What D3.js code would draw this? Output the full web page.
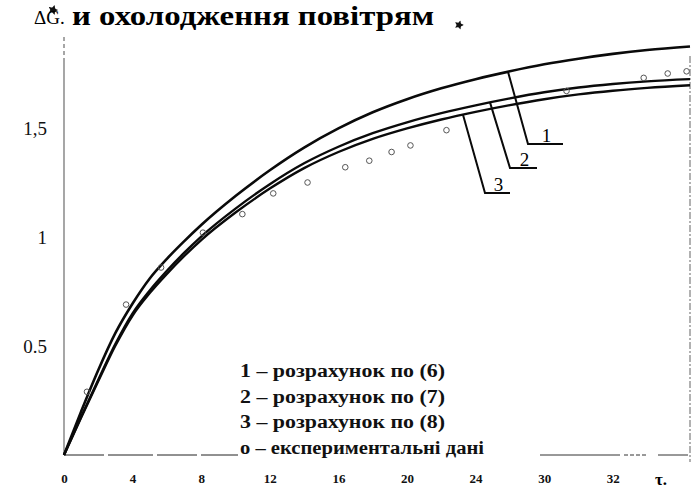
<!DOCTYPE html>
<html><head><meta charset="utf-8">
<script src="https://cdn.jsdelivr.net/npm/d3@7/dist/d3.min.js"></script>
<style>
html,body{margin:0;padding:0;background:#fff;}
svg{display:block;font-family:"Liberation Serif","DejaVu Serif",serif;}
</style></head>
<body>
<svg id="chart" width="696" height="490"></svg>
<script>
// ---- data ----
const xTicks = [0,4,8,12,16,20,24,28,32];
const xTickLabels = ["0","4","8","12","16","20","24","30","32"];
const yTicks = [0.5,1,1.5];
const yTickLabels = ["0.5","1","1,5"];

const tau     = [0,1,2,3,4,5,6,7,8,10,12,14,16,18,20,22,24,26,28,30,32,34,36.5];
const series1 = [0,0.2,0.39,0.56,0.695,0.81,0.9,0.98,1.055,1.188,1.306,1.41,1.498,1.572,1.632,1.682,1.724,1.76,1.792,1.818,1.84,1.858,1.874];
const series2 = [0,0.175,0.345,0.51,0.65,0.755,0.845,0.927,1.002,1.13,1.242,1.338,1.414,1.476,1.526,1.568,1.604,1.636,1.664,1.686,1.702,1.714,1.724];
const series3 = [0,0.172,0.339,0.502,0.64,0.743,0.831,0.912,0.986,1.112,1.222,1.316,1.39,1.45,1.498,1.539,1.574,1.605,1.632,1.654,1.671,1.684,1.696];

const expT = [1.34,3.62,5.66,8.1,10.4,12.2,14.2,16.4,17.8,19.1,20.2,22.3,29.3,33.8,35.2,36.3];
const expG = [0.29,0.69,0.86,1.02,1.105,1.20,1.25,1.32,1.35,1.39,1.42,1.49,1.67,1.73,1.75,1.76];

const curveNames = ["1","2","3"];
const legendLines = ["1 – розрахунок по (6)","2 – розрахунок по (7)","3 – розрахунок по (8)","o – експериментальні дані"];
const title = "и охолодження повітрям";
const yLabel = "ΔG.";
const xLabel = "τ.";

// ---- layout ----
const svg = d3.select("#chart");
const x = d3.scaleLinear().domain([0,36.5]).range([64,690]);
const y = d3.scaleLinear().domain([0,1.5]).range([455,128]);

// title
svg.append("text").attr("x",72).attr("y",24.5)
  .attr("font-size",27).attr("font-weight","bold")
  .attr("textLength",362).attr("lengthAdjust","spacingAndGlyphs")
  .text(title);
// ink blots
function blot(cx,cy,r){
  const pts=[];
  for(let i=0;i<10;i++){const a=i/10*Math.PI*2;const rr=(i%2?r*0.55:r);pts.push([cx+rr*Math.cos(a),cy+rr*Math.sin(a)]);}
  svg.append("path").attr("d",d3.line().curve(d3.curveCardinalClosed)(pts)).attr("fill","#111");
}
blot(53,10,5); blot(459,25,4.5);

svg.append("text").attr("x",34).attr("y",24).attr("font-size",19).text(yLabel);

// y axis
const gy = svg.append("g").attr("transform","translate(64,0)")
  .call(d3.axisLeft(y).tickValues(yTicks).tickFormat((d,i)=>yTickLabels[i]).tickSize(0).tickPadding(17));
gy.select(".domain").remove();
gy.selectAll("text").attr("font-family","Liberation Serif").attr("font-size",19).attr("fill","#111").attr("dy","0.35em");
svg.append("line").attr("x1",64).attr("x2",64).attr("y1",y(0)).attr("y2",62)
  .attr("stroke","#777").attr("stroke-width",1.3);
svg.append("line").attr("x1",64).attr("x2",64).attr("y1",62).attr("y2",34)
  .attr("stroke","#777").attr("stroke-width",1.3).attr("stroke-dasharray","4,3");

// x axis
const gx = svg.append("g").attr("transform","translate(0,478)")
  .call(d3.axisBottom(x).tickValues(xTicks).tickFormat((d,i)=>xTickLabels[i]).tickSize(0).tickPadding(0));
gx.select(".domain").remove();
gx.selectAll("text").attr("font-family","Liberation Serif").attr("font-size",13).attr("font-weight","bold").attr("fill","#111").attr("dy","0.35em");
svg.append("text").attr("x",655).attr("y",485).attr("font-size",17).attr("font-weight","bold").text(xLabel);

// bottom baseline (dashed pieces)
svg.append("line").attr("x1",64).attr("x2",238).attr("y1",455).attr("y2",455)
  .attr("stroke","#222").attr("stroke-width",1).attr("stroke-dasharray","40,4,45,4,40,4,60");
svg.append("line").attr("x1",540).attr("x2",690).attr("y1",455).attr("y2",455)
  .attr("stroke","#333").attr("stroke-width",1).attr("stroke-dasharray","80,4,4,2,4,2,4,2,4,12,30");
// right border
svg.append("line").attr("x1",690).attr("x2",690).attr("y1",56).attr("y2",462)
  .attr("stroke","#888").attr("stroke-width",1.3).attr("stroke-dasharray","7,2,2,2");

// curves
const line = d3.line().x((d,i)=>x(tau[i])).y(d=>y(d)).curve(d3.curveMonotoneX);
[series1,series2,series3].forEach((s,k)=>{
  svg.append("path").datum(s).attr("d",line).attr("fill","none")
    .attr("stroke","#0a0a0a").attr("stroke-width",k===0?2.6:2.4);
});

// experimental points
svg.selectAll("circle.exp").data(expT).enter().append("circle")
  .attr("cx",d=>x(d)).attr("cy",(d,i)=>y(expG[i])).attr("r",2.8)
  .attr("fill","none").attr("stroke","#555").attr("stroke-width",1);

// leader lines with curve numbers
function interp(s,t){
  for(let i=1;i<tau.length;i++){ if(t<=tau[i]){const f=(t-tau[i-1])/(tau[i]-tau[i-1]);return s[i-1]+f*(s[i]-s[i-1]);} }
  return s[s.length-1];
}
const leaders = [
  {s:series1,t:x.invert(508),dx:20,yb:144,w:35},
  {s:series2,t:x.invert(490),dx:20,yb:168,w:27},
  {s:series3,t:x.invert(463),dx:22,yb:193,w:25}
];
leaders.forEach((L,i)=>{
  const x0=x(L.t), y0=y(interp(L.s,L.t));
  svg.append("path").attr("d",`M${x0},${y0}L${x0+L.dx},${L.yb}L${x0+L.dx+L.w},${L.yb}`)
    .attr("fill","none").attr("stroke","#0a0a0a").attr("stroke-width",2);
  svg.append("text").attr("x",x0+L.dx+L.w/2+1).attr("y",L.yb-2).attr("text-anchor","middle")
    .attr("font-size",19).text(curveNames[i]);
});

// legend
const legW=[205,205,205,244];
legendLines.forEach((t,i)=>{
  svg.append("text").attr("x",240).attr("y",377+i*25.5).attr("font-size",18).attr("font-weight","bold")
    .attr("textLength",legW[i]).attr("lengthAdjust","spacingAndGlyphs").attr("fill","#111").text(t);
});
</script>
</body></html>
